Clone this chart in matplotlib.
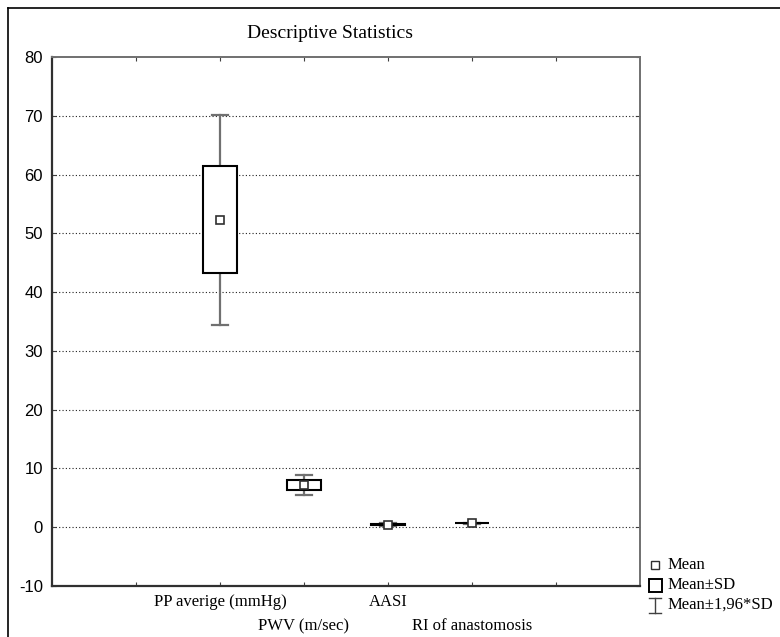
import matplotlib
matplotlib.use("Agg")
import matplotlib.pyplot as plt
from matplotlib.patches import Rectangle
from matplotlib.lines import Line2D
import numpy as np

plt.rcParams['font.family'] = ['Liberation Serif', 'DejaVu Serif']

categories = ["PP averige (mmHg)", "PWV (m/sec)", "AASI", "RI of anastomosis"]
positions = [2, 3, 4, 5]
means = [52.3, 7.2, 0.45, 0.68]
sds = [9.1, 0.87, 0.12, 0.04]
yticks = [-10, 0, 10, 20, 30, 40, 50, 60, 70, 80]

W, H = 780, 637
fig = plt.figure(figsize=(W / 100, H / 100), dpi=100)
ax = fig.add_axes([52 / W, 51 / H, 588 / W, 529 / H])

ax.set_xlim(0, 7)
ax.set_ylim(-10, 80)
ax.set_yticks(yticks)
ax.set_yticklabels([str(t) for t in yticks], fontfamily='Liberation Sans', fontsize=12)
ax.set_xticks([1, 2, 3, 4, 5, 6])
ax.set_xticklabels([])
ax.tick_params(axis='both', direction='in', length=3, top=True, right=True, pad=6.5, color='#404040')

for t in yticks[1:-1]:
    ax.axhline(t, color='#202020', linestyle=(0, (1, 2)), linewidth=0.8, zorder=0)

for s in ['left', 'bottom']:
    ax.spines[s].set_color('#303030')
    ax.spines[s].set_linewidth(1.6)
for s in ['top', 'right']:
    ax.spines[s].set_color('#707070')
    ax.spines[s].set_linewidth(1.4)

bw = 0.4
cw = 0.2
for x, m, sd in zip(positions, means, sds):
    lo1, hi1 = m - sd, m + sd
    lo2, hi2 = m - 1.96 * sd, m + 1.96 * sd
    ax.plot([x, x], [hi1, hi2], color='#707070', lw=1.6, zorder=2)
    ax.plot([x, x], [lo2, lo1], color='#707070', lw=1.6, zorder=2)
    ax.plot([x - cw / 2, x + cw / 2], [hi2, hi2], color='#707070', lw=1.6, zorder=2)
    ax.plot([x - cw / 2, x + cw / 2], [lo2, lo2], color='#707070', lw=1.6, zorder=2)
    ax.add_patch(Rectangle((x - bw / 2, lo1), bw, hi1 - lo1, facecolor='white',
                           edgecolor='black', lw=1.5, zorder=3))
    ax.plot([x], [m], marker='s', markersize=6, markerfacecolor='white',
            markeredgecolor='#303030', markeredgewidth=1.2, zorder=4)

tr = ax.get_xaxis_transform()
for i, (x, lab) in enumerate(zip(positions, categories)):
    y = -16 / 529 if i % 2 == 0 else -40 / 529
    ax.text(x, y, lab, transform=tr, ha='center', va='center', fontsize=12)

fig.text(330 / W, 1 - 34 / H, "Descriptive Statistics", ha='center', va='center', fontsize=14)

# outer frame
fig.add_artist(Line2D([8 / W, 8 / W], [0, 1 - 8 / H], transform=fig.transFigure, color='black', lw=1.2))
fig.add_artist(Line2D([8 / W, 1], [1 - 8 / H, 1 - 8 / H], transform=fig.transFigure, color='black', lw=1.2))

# legend
def fx(px):
    return px / W
def fy(py):
    return 1 - py / H

fig.add_artist(Rectangle((fx(651), fy(569)), 8 / W, 8 / H, transform=fig.transFigure,
                         facecolor='white', edgecolor='#303030', lw=1.0))
fig.text(fx(668), fy(565), "Mean", ha='left', va='center', fontsize=12)
fig.add_artist(Rectangle((fx(649), fy(592)), 13 / W, 13 / H, transform=fig.transFigure,
                         facecolor='white', edgecolor='black', lw=1.4))
fig.text(fx(668), fy(585), "Mean\u00b1SD", ha='left', va='center', fontsize=12)
fig.add_artist(Line2D([fx(655), fx(655)], [fy(598), fy(613)], transform=fig.transFigure, color='#404040', lw=1.0))
fig.add_artist(Line2D([fx(649), fx(661)], [fy(598), fy(598)], transform=fig.transFigure, color='#404040', lw=1.0))
fig.add_artist(Line2D([fx(649), fx(661)], [fy(613), fy(613)], transform=fig.transFigure, color='#404040', lw=1.0))
fig.text(fx(668), fy(605), "Mean\u00b11,96*SD", ha='left', va='center', fontsize=12)

fig.savefig("out.png", dpi=100)
